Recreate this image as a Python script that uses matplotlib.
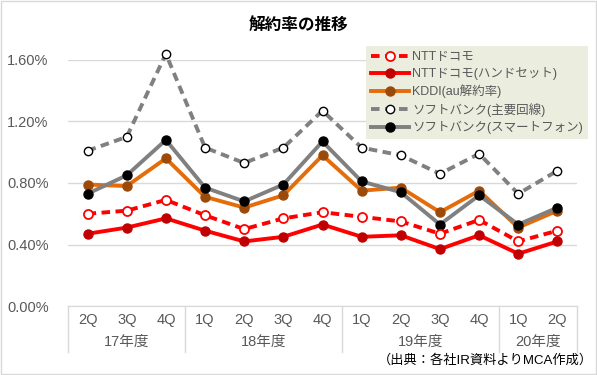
import matplotlib.pyplot as plt
from matplotlib.patches import Rectangle
from matplotlib.ticker import FuncFormatter

plt.rcParams['font.family'] = ['Liberation Sans', 'Noto Sans CJK JP', 'DejaVu Sans']

quarters = ['2Q', '3Q', '4Q', '1Q', '2Q', '3Q', '4Q', '1Q', '2Q', '3Q', '4Q', '1Q', '2Q']
years = ['17年度', '18年度', '19年度', '20年度']
year_spans = [(0, 2), (3, 6), (7, 10), (11, 12)]

docomo = [0.60, 0.62, 0.69, 0.59, 0.50, 0.57, 0.61, 0.58, 0.55, 0.47, 0.56, 0.42, 0.49]
docomo_hs = [0.47, 0.51, 0.57, 0.49, 0.42, 0.45, 0.53, 0.45, 0.46, 0.37, 0.46, 0.34, 0.42]
kddi = [0.79, 0.78, 0.96, 0.71, 0.64, 0.72, 0.98, 0.75, 0.77, 0.61, 0.75, 0.51, 0.62]
sb_main = [1.01, 1.10, 1.64, 1.03, 0.93, 1.03, 1.27, 1.03, 0.98, 0.86, 0.99, 0.73, 0.88]
sb_smart = [0.73, 0.85, 1.08, 0.77, 0.68, 0.79, 1.07, 0.81, 0.74, 0.53, 0.72, 0.53, 0.64]

x = list(range(len(quarters)))
txt = '#595959'

fig = plt.figure(figsize=(5.97, 3.75), dpi=100)
ax = fig.add_axes([68 / 597, 69 / 375, 509 / 597, 246 / 375])

l4, = ax.plot(x, sb_main, color='#808080', lw=2.8, ls=(0, (2.2, 1.4)), marker='o', ms=6,
              mfc='white', mec='black', mew=1.0, clip_on=False, zorder=3, label='ソフトバンク(主要回線)')
l3, = ax.plot(x, kddi, color='#E46C0A', lw=2.8, marker='o', ms=6.5, mfc='#9C4A0A', mec='#9C4A0A',
              clip_on=False, zorder=3, label='KDDI(au解約率)')
l5, = ax.plot(x, sb_smart, color='#808080', lw=2.8, marker='o', ms=6.5, mfc='black', mec='black',
              clip_on=False, zorder=3, label='ソフトバンク(スマートフォン)')
l1, = ax.plot(x, docomo, color='#FF0000', lw=2.8, ls=(0, (2.2, 1.4)), marker='o', ms=6.5,
              mfc='white', mec='#FF0000', mew=1.3, clip_on=False, zorder=4, label='NTTドコモ')
l2, = ax.plot(x, docomo_hs, color='#FF0000', lw=2.8, marker='o', ms=6.5, mfc='#C00000', mec='#C00000',
              clip_on=False, zorder=4, label='NTTドコモ(ハンドセット)')

ax.set_xlim(-0.5, len(x) - 0.5)
ax.set_ylim(0, 1.6)
ax.set_yticks([0, 0.4, 0.8, 1.2, 1.6])
ax.yaxis.set_major_formatter(FuncFormatter(lambda v, p: f'{v:.2f}%'))
ax.grid(axis='y', color='#D9D9D9', lw=1)
ax.set_axisbelow(True)
for s in ['top', 'right', 'left']:
    ax.spines[s].set_visible(False)
ax.spines['bottom'].set_color('#D9D9D9')
ax.tick_params(axis='y', length=0, labelsize=10.5, labelcolor=txt, pad=14)
ax.set_xticks(x)
ax.set_xticklabels(quarters)
ax.tick_params(axis='x', length=0, labelsize=10.5, labelcolor=txt, pad=5)

# category box
tr = ax.get_xaxis_transform()
for b in [-0.5, 2.5, 6.5, 10.5, 12.5]:
    ax.plot([b, b], [0, -0.187], transform=tr, color='#D9D9D9', lw=1, clip_on=False)
for name, (a, b) in zip(years, year_spans):
    ax.text((a + b) / 2, -0.146, name, transform=tr, ha='center', va='center',
            fontsize=10.5, color=txt)

fig.text(0.5, 1 - 25 / 375, '解約率の推移', ha='center', va='center', fontsize=12,
         fontweight='bold', color='black')
fig.text(593 / 597, 1 - 360 / 375, '（出典：各社IR資料よりMCA作成）', ha='right', va='center',
         fontsize=9.5, color='black')

leg = ax.legend(handles=[l1, l2, l3, l4, l5], loc='upper left', bbox_to_anchor=(366 / 597, 1 - 46 / 375),
                bbox_transform=fig.transFigure, frameon=True, fontsize=9, labelcolor=txt,
                handlelength=3.0, handletextpad=0.3, labelspacing=0.35, borderpad=0.4, borderaxespad=0)
leg.get_frame().set_facecolor('#EBEDDF')
leg.get_frame().set_edgecolor('none')
leg.get_frame().set_boxstyle('square', pad=0)
leg.get_frame().set_alpha(1)

fig.patches.append(Rectangle((0.002, 0.003), 0.996, 0.994, transform=fig.transFigure,
                             fill=False, edgecolor='#D9D9D9', lw=1))

fig.savefig('out.png', dpi=100)
